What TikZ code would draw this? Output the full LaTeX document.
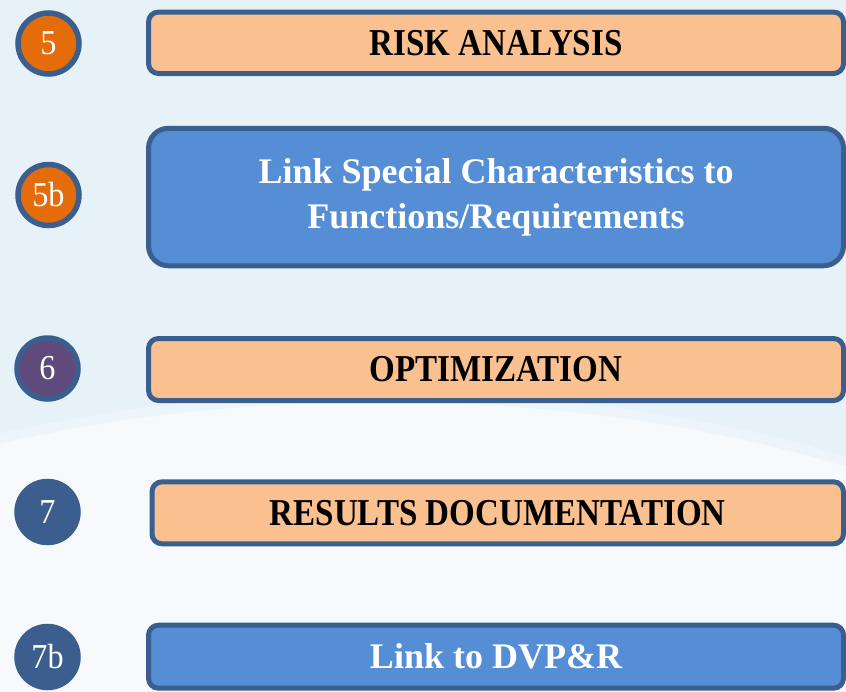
\documentclass[tikz,border=0pt]{standalone}
\usepackage{fontspec}
\newfontfamily\boxfont[FakeStretch=0.87]{Liberation Serif}
\newfontfamily\bluefont[FakeStretch=1.0]{Liberation Serif}
\newfontfamily\numfont[FakeStretch=0.92]{Liberation Serif}
\definecolor{bgblue}{HTML}{E7F1F8}
\definecolor{bgmid}{HTML}{EEF5FA}
\definecolor{bgwhite}{HTML}{F6FAFD}
\definecolor{bordc}{HTML}{3A5F8E}
\definecolor{peach}{HTML}{FAC090}
\definecolor{boxblue}{HTML}{558ED5}
\definecolor{corange}{HTML}{E46C0A}
\definecolor{cpurple}{HTML}{604A7B}
\definecolor{cdark}{HTML}{3B5E8E}
\tikzset{
  stepbox/.style={draw=bordc, line width=5pt, rounded corners=10pt, minimum width=695pt, inner sep=0pt, align=center},
  peachbox/.style={stepbox, fill=peach, text=black, font=\boxfont\bfseries\fontsize{38}{45}\selectfont},
  bluebox/.style={stepbox, fill=boxblue, text=white, font=\bluefont\bfseries\fontsize{36}{45}\selectfont},
  numcirc/.style={circle, draw=bordc, line width=5.5pt, minimum size=61pt, inner sep=0pt,
     text=white, font=\numfont\fontsize{35}{38}\selectfont},
}
\begin{document}
\begin{tikzpicture}[x=1pt, y=-1pt]
\useasboundingbox (0,0) rectangle (846,691);
% background
\fill[bgblue] (0,0) rectangle (846,691);
\begin{scope}
\clip (0,0) rectangle (846,691);
\fill[bgmid] (380,846) ellipse [x radius=906pt, y radius=454pt];
\fill[bgwhite] (380,850) ellipse [x radius=900pt, y radius=448pt];
\end{scope}
% boxes
\node[peachbox, minimum height=61.5pt] (b1) at (496,42.75) {RISK ANALYSIS};
\node[bluebox, minimum height=137.5pt, rounded corners=20pt] (b2) at (496,197) {Link Special Characteristics to\\Functions/Requirements};
\node[peachbox, minimum height=62pt] (b3) at (496,369.5) {OPTIMIZATION};
\node[peachbox, minimum width=691.5pt, minimum height=62pt] (b4) at (497.75,512.8) {RESULTS DOCUMENTATION};
\node[bluebox, minimum height=63pt] (b5) at (496,656.7) {Link to DVP\&R};
% circles
\node[numcirc, fill=corange] (c1) at (48.5,43.5) {5};
\node[numcirc, fill=corange] (c2) at (48.5,195) {5b};
\node[numcirc, fill=cpurple] (c3) at (47.5,368.5) {6};
\node[numcirc, fill=cdark, draw=cdark] (c4) at (47.5,512) {7};
\node[numcirc, fill=cdark, draw=cdark] (c5) at (47.5,657) {7b};
\end{tikzpicture}
\end{document}
